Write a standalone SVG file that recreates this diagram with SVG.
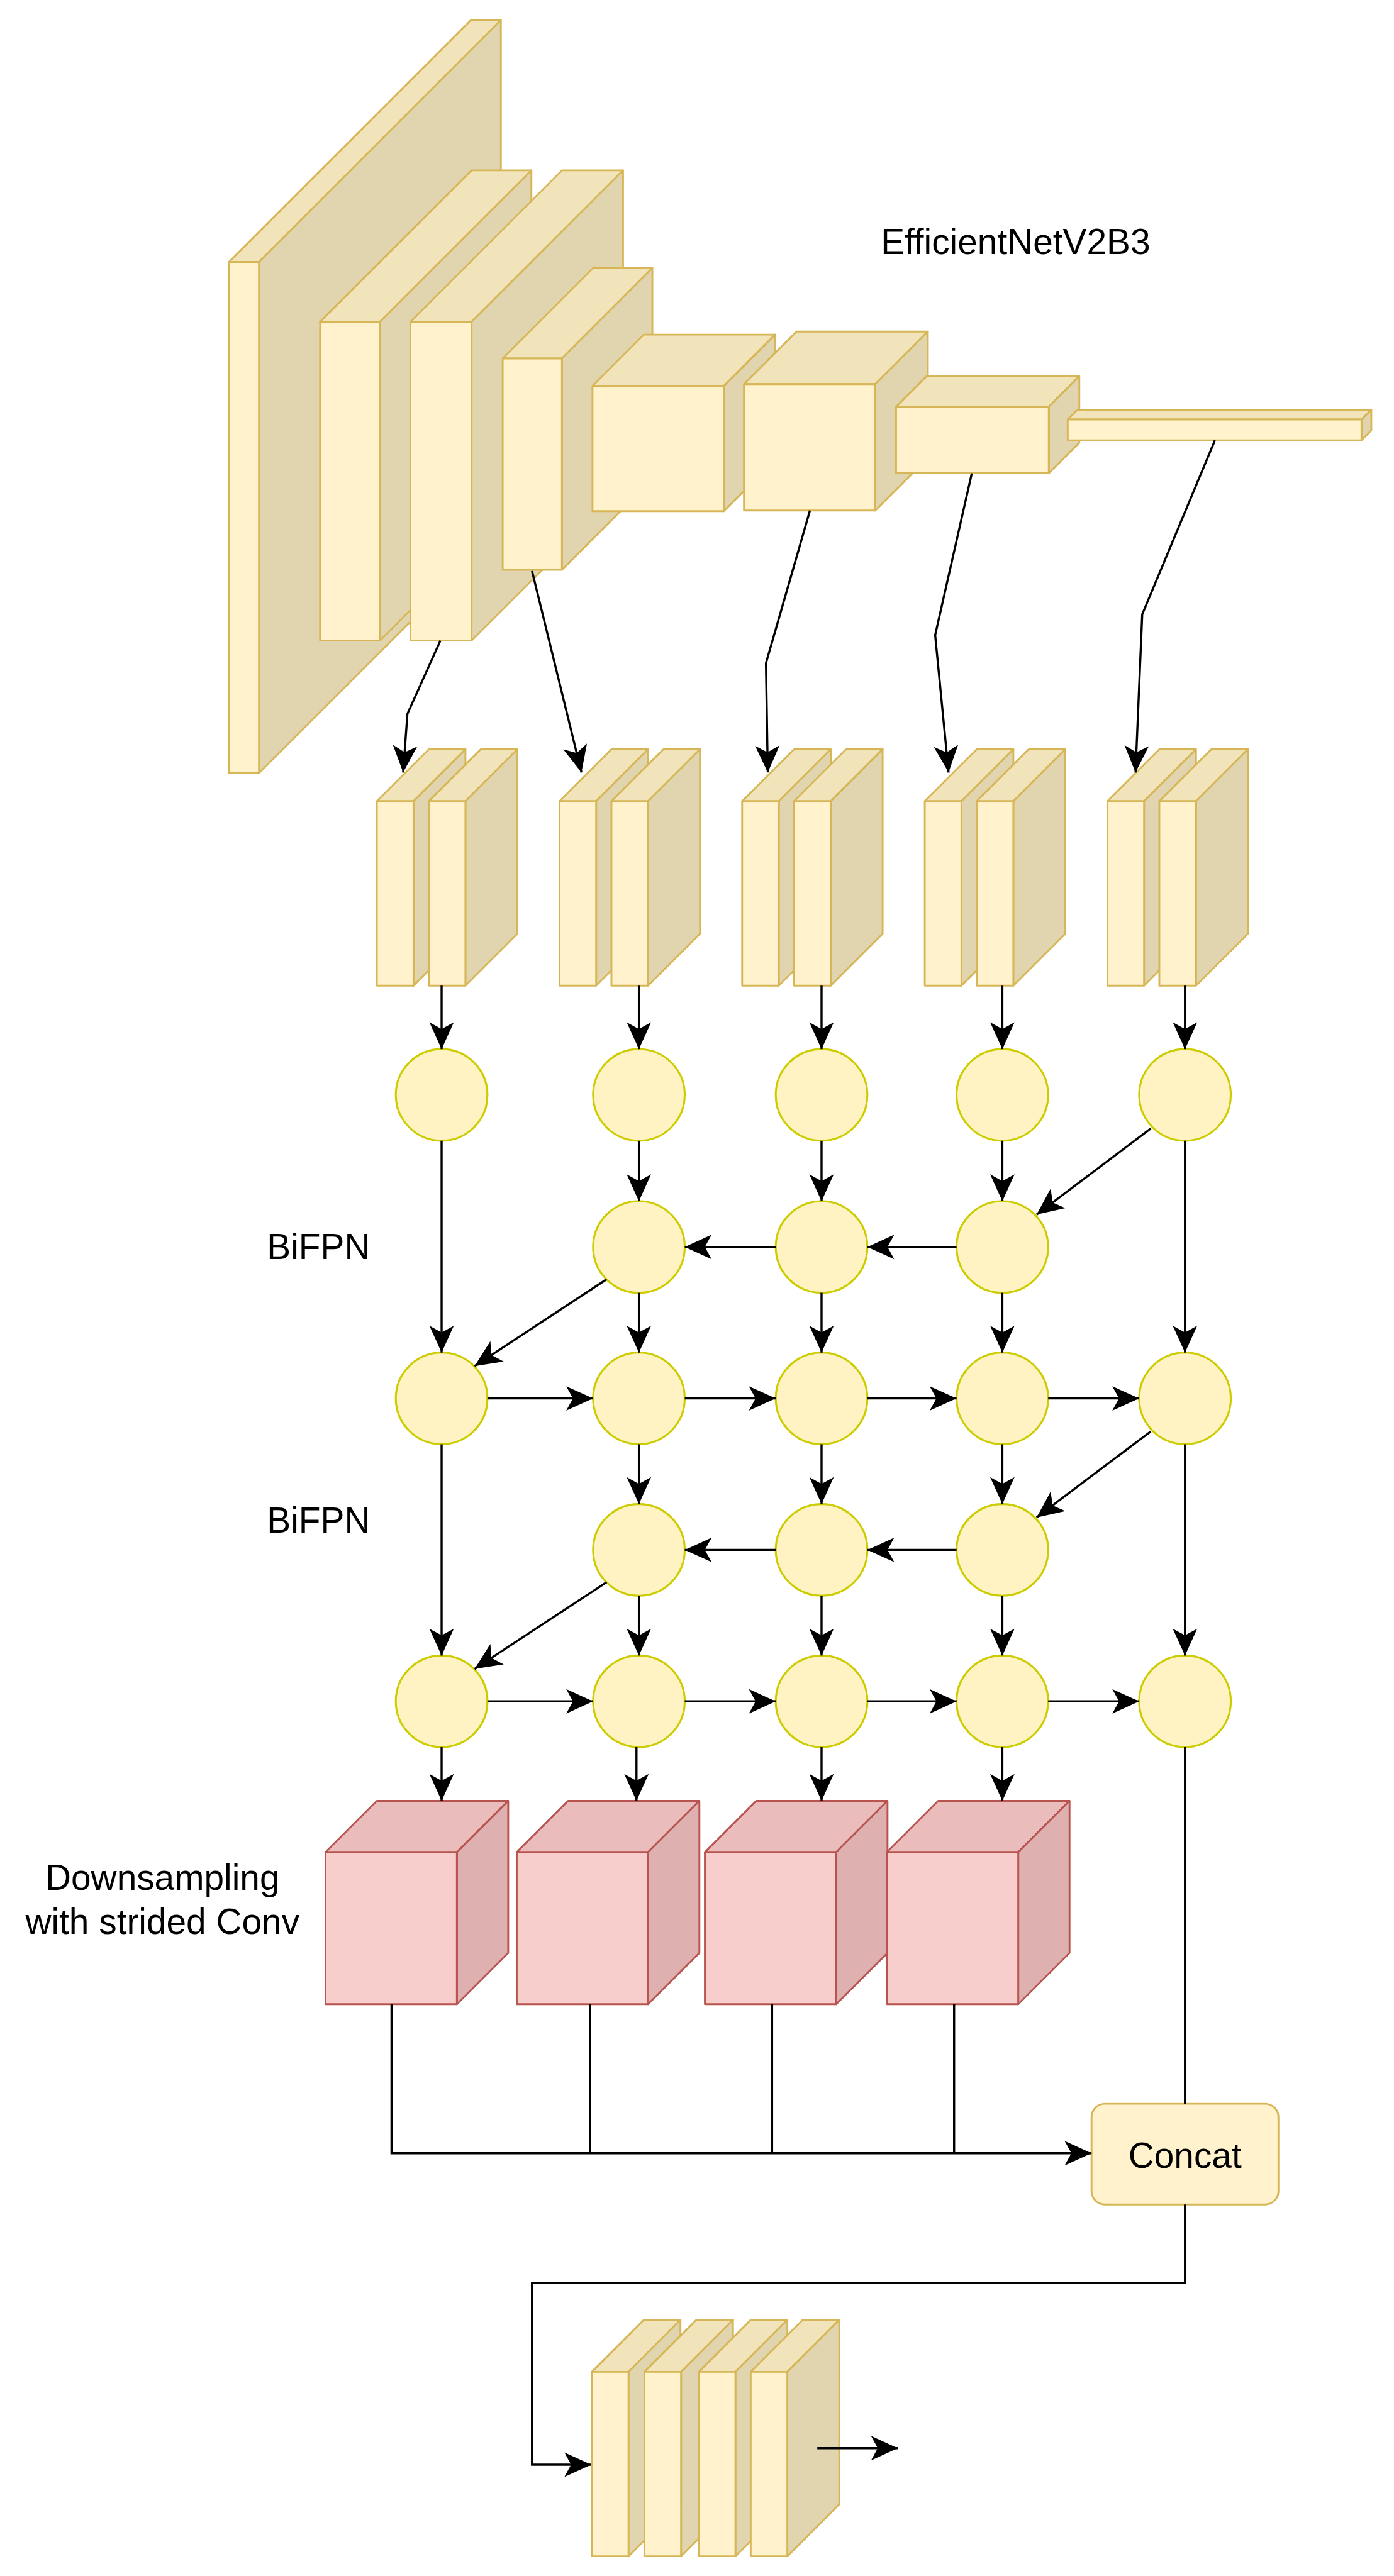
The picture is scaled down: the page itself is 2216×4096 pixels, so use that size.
<svg xmlns="http://www.w3.org/2000/svg" xmlns:xlink="http://www.w3.org/1999/xlink" width="2216" height="4096" viewBox="0 0 2216 4096">
<style>
.yf{fill:#fff2cc;stroke:#d6b656;stroke-width:3;stroke-linejoin:round}
.yt{fill:#f1e4bb;stroke:#d6b656;stroke-width:3;stroke-linejoin:round}
.ys{fill:#e1d5af;stroke:#d6b656;stroke-width:3;stroke-linejoin:round}
.pf{fill:#f8cecc;stroke:#b85450;stroke-width:3;stroke-linejoin:round}
.pt{fill:#eabcbb;stroke:#b85450;stroke-width:3;stroke-linejoin:round}
.ps{fill:#dfb0b0;stroke:#b85450;stroke-width:3;stroke-linejoin:round}
.cn{fill:#fff2c3;stroke:#cccc00;stroke-width:3.2}
.e{fill:none;stroke:#000;stroke-width:3.5}
.a{fill:none;stroke:#000;stroke-width:3.5;marker-end:url(#ah)}
.t{font-family:"Liberation Sans",Arial,Helvetica,sans-serif;font-size:58.5px;fill:#000}
</style>
<defs>
<marker id="ah" viewBox="-46 -22 48 44" refX="0" refY="0" markerWidth="48" markerHeight="44" markerUnits="userSpaceOnUse" orient="auto">
<path d="M0,0 L-44,-20 L-33,0 L-44,20 Z" fill="#000"/>
</marker>
<g id="yslab">
<polygon class="yt" points="0,0 85,-85 145,-85 60,0"/>
<polygon class="ys" points="60,0 145,-85 145,217 60,302"/>
<rect class="yf" x="0" y="0" width="60" height="302"/>
</g>
<g id="pcube">
<polygon class="pt" points="0,0 84,-84 299,-84 215,0"/>
<polygon class="ps" points="215,0 299,-84 299,165 215,249"/>
<rect class="pf" x="0" y="0" width="215" height="249"/>
</g>
</defs>
<rect x="0" y="0" width="2216" height="4096" fill="#fff"/>
<g transform="scale(0.971)">
<g id="backbone">
<g id="b1"><polygon class="yt" points="375,429 771,33 820,33 424,429"/><polygon class="ys" points="424,429 820,33 820,870 424,1266"/><rect class="yf" x="375" y="429" width="49" height="837"/></g>
<g id="b2"><polygon class="yt" points="524,527 772,279 870,279 622,527"/><polygon class="ys" points="622,527 870,279 870,801 622,1049"/><rect class="yf" x="524" y="527" width="98" height="522"/></g>
<g id="b3"><polygon class="yt" points="672,527 920,279 1020,279 772,527"/><polygon class="ys" points="772,527 1020,279 1020,801 772,1049"/><rect class="yf" x="672" y="527" width="100" height="522"/></g>
<g id="b4"><polygon class="yt" points="823,587 971,439 1068,439 920,587"/><polygon class="ys" points="920,587 1068,439 1068,785 920,933"/><rect class="yf" x="823" y="587" width="97" height="346"/></g>
<g id="b5"><polygon class="yt" points="970,632 1054,548 1269,548 1185,632"/><polygon class="ys" points="1185,632 1269,548 1269,753 1185,837"/><rect class="yf" x="970" y="632" width="215" height="205"/></g>
<g id="b6"><polygon class="yt" points="1218,629 1304,543 1519,543 1433,629"/><polygon class="ys" points="1433,629 1519,543 1519,750 1433,836"/><rect class="yf" x="1218" y="629" width="215" height="207"/></g>
<g id="b7"><polygon class="yt" points="1467,666 1517,616 1767,616 1717,666"/><polygon class="ys" points="1717,666 1767,616 1767,725 1717,775"/><rect class="yf" x="1467" y="666" width="250" height="109"/></g>
<g id="b8"><polygon class="yt" points="1748,687 1764,671 2245,671 2229,687"/><polygon class="ys" points="2229,687 2245,671 2245,705 2229,721"/><rect class="yf" x="1748" y="687" width="481" height="34"/></g>
</g>
<g id="stack1"><use href="#yslab" x="617" y="1312"/><use href="#yslab" x="702" y="1312"/></g>
<g id="stack2"><use href="#yslab" x="916" y="1312"/><use href="#yslab" x="1001" y="1312"/></g>
<g id="stack3"><use href="#yslab" x="1215" y="1312"/><use href="#yslab" x="1300" y="1312"/></g>
<g id="stack4"><use href="#yslab" x="1514" y="1312"/><use href="#yslab" x="1599" y="1312"/></g>
<g id="stack5"><use href="#yslab" x="1813" y="1312"/><use href="#yslab" x="1898" y="1312"/></g>
<g id="nodes">
<circle id="n10" class="cn" cx="723" cy="1793" r="75"/>
<circle id="n11" class="cn" cx="1046" cy="1793" r="75"/>
<circle id="n12" class="cn" cx="1345" cy="1793" r="75"/>
<circle id="n13" class="cn" cx="1641" cy="1793" r="75"/>
<circle id="n14" class="cn" cx="1940" cy="1793" r="75"/>
<circle id="n21" class="cn" cx="1046" cy="2042" r="75"/>
<circle id="n22" class="cn" cx="1345" cy="2042" r="75"/>
<circle id="n23" class="cn" cx="1641" cy="2042" r="75"/>
<circle id="n30" class="cn" cx="723" cy="2290" r="75"/>
<circle id="n31" class="cn" cx="1046" cy="2290" r="75"/>
<circle id="n32" class="cn" cx="1345" cy="2290" r="75"/>
<circle id="n33" class="cn" cx="1641" cy="2290" r="75"/>
<circle id="n34" class="cn" cx="1940" cy="2290" r="75"/>
<circle id="n41" class="cn" cx="1046" cy="2538" r="75"/>
<circle id="n42" class="cn" cx="1345" cy="2538" r="75"/>
<circle id="n43" class="cn" cx="1641" cy="2538" r="75"/>
<circle id="n50" class="cn" cx="723" cy="2786" r="75"/>
<circle id="n51" class="cn" cx="1046" cy="2786" r="75"/>
<circle id="n52" class="cn" cx="1345" cy="2786" r="75"/>
<circle id="n53" class="cn" cx="1641" cy="2786" r="75"/>
<circle id="n54" class="cn" cx="1940" cy="2786" r="75"/>
</g>
<g id="down1"><use href="#pcube" x="533" y="3033"/></g>
<g id="down2"><use href="#pcube" x="846" y="3033"/></g>
<g id="down3"><use href="#pcube" x="1154" y="3033"/></g>
<g id="down4"><use href="#pcube" x="1452" y="3033"/></g>
<g id="concat"><rect x="1787" y="3445" width="306" height="165" rx="22" ry="22" fill="#fff2cc" stroke="#d6b656" stroke-width="3"/><text class="t" x="1940" y="3550" text-anchor="middle">Concat</text></g>
<g id="head"><use href="#yslab" x="969" y="3884"/><use href="#yslab" x="1055" y="3884"/><use href="#yslab" x="1144" y="3884"/><use href="#yslab" x="1229" y="3884"/></g>
<g id="labels">
<text class="t" x="1442" y="416">EfficientNetV2B3</text>
<text class="t" x="437" y="2062">BiFPN</text>
<text class="t" x="437" y="2510">BiFPN</text>
<text class="t" x="266" y="3095" text-anchor="middle">Downsampling</text>
<text class="t" x="266" y="3167" text-anchor="middle">with strided Conv</text>
</g>
<g id="connectors">
<polyline class="a" points="721,1049 667,1169 660,1265"/>
<polyline class="a" points="871,935 952,1265"/>
<polyline class="a" points="1326,836 1254,1086 1257,1265"/>
<polyline class="a" points="1591,775 1531,1040 1553,1265"/>
<polyline class="a" points="1989,721 1870,1006 1859,1265"/>
<line class="a" x1="723" y1="1614" x2="723" y2="1718"/>
<line class="a" x1="1046" y1="1614" x2="1046" y2="1718"/>
<line class="a" x1="1345" y1="1614" x2="1345" y2="1718"/>
<line class="a" x1="1641" y1="1614" x2="1641" y2="1718"/>
<line class="a" x1="1940" y1="1614" x2="1940" y2="1718"/>
<line class="a" x1="1046" y1="1868" x2="1046" y2="1967"/>
<line class="a" x1="1345" y1="1868" x2="1345" y2="1967"/>
<line class="a" x1="1641" y1="1868" x2="1641" y2="1967"/>
<line class="a" x1="723" y1="1868" x2="723" y2="2215"/>
<line class="a" x1="1940" y1="1868" x2="1940" y2="2215"/>
<line class="a" x1="1884" y1="1848" x2="1697" y2="1989"/>
<line class="a" x1="1566" y1="2042" x2="1420" y2="2042"/>
<line class="a" x1="1270" y1="2042" x2="1121" y2="2042"/>
<line class="a" x1="993" y1="2095" x2="777" y2="2237"/>
<line class="a" x1="1046" y1="2117" x2="1046" y2="2215"/>
<line class="a" x1="1345" y1="2117" x2="1345" y2="2215"/>
<line class="a" x1="1641" y1="2117" x2="1641" y2="2215"/>
<line class="a" x1="798" y1="2290" x2="971" y2="2290"/>
<line class="a" x1="1121" y1="2290" x2="1270" y2="2290"/>
<line class="a" x1="1420" y1="2290" x2="1566" y2="2290"/>
<line class="a" x1="1716" y1="2290" x2="1865" y2="2290"/>
<line class="a" x1="1046" y1="2365" x2="1046" y2="2463"/>
<line class="a" x1="1345" y1="2365" x2="1345" y2="2463"/>
<line class="a" x1="1641" y1="2365" x2="1641" y2="2463"/>
<line class="a" x1="723" y1="2365" x2="723" y2="2711"/>
<line class="a" x1="1940" y1="2365" x2="1940" y2="2711"/>
<line class="a" x1="1884" y1="2344" x2="1697" y2="2485"/>
<line class="a" x1="1566" y1="2538" x2="1420" y2="2538"/>
<line class="a" x1="1270" y1="2538" x2="1121" y2="2538"/>
<line class="a" x1="993" y1="2591" x2="777" y2="2733"/>
<line class="a" x1="1046" y1="2613" x2="1046" y2="2711"/>
<line class="a" x1="1345" y1="2613" x2="1345" y2="2711"/>
<line class="a" x1="1641" y1="2613" x2="1641" y2="2711"/>
<line class="a" x1="798" y1="2786" x2="971" y2="2786"/>
<line class="a" x1="1121" y1="2786" x2="1270" y2="2786"/>
<line class="a" x1="1420" y1="2786" x2="1566" y2="2786"/>
<line class="a" x1="1716" y1="2786" x2="1865" y2="2786"/>
<line class="a" x1="723" y1="2861" x2="723" y2="2949"/>
<line class="a" x1="1042" y1="2861" x2="1042" y2="2949"/>
<line class="a" x1="1345" y1="2861" x2="1345" y2="2949"/>
<line class="a" x1="1641" y1="2861" x2="1641" y2="2949"/>
<line class="e" x1="1940" y1="2861" x2="1940" y2="3445"/>
<line class="e" x1="966" y1="3282" x2="966" y2="3526"/>
<line class="e" x1="1264" y1="3282" x2="1264" y2="3526"/>
<line class="e" x1="1562" y1="3282" x2="1562" y2="3526"/>
<polyline class="a" points="641,3282 641,3526 1787,3526"/>
<polyline class="a" points="1940,3610 1940,3738 871,3738 871,4036 968,4036"/>
<line class="a" x1="1338" y1="4009" x2="1470" y2="4009"/>
</g>
</g>
</svg>
